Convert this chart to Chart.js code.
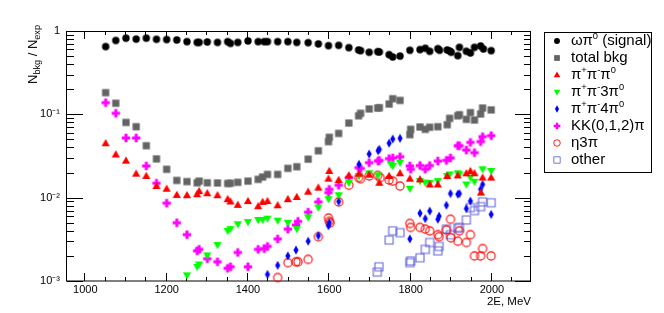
<!DOCTYPE html>
<html><head><meta charset="utf-8">
<script src="https://cdn.jsdelivr.net/npm/chart.js@4.4.0/dist/chart.umd.min.js"></script>
<style>
html,body{margin:0;padding:0;background:#fff;}
#wrap{position:relative;width:664px;height:313px;overflow:hidden;font-family:"Liberation Sans",Arial,Helvetica,sans-serif;color:#000;}
#c{position:absolute;left:0;top:0;}
#ytitle{position:absolute;font-size:13px;white-space:nowrap;transform-origin:0 0;transform:rotate(-90deg);line-height:1;}
#xtitle{position:absolute;right:133px;top:294px;font-size:11.5px;line-height:14px;white-space:nowrap;}
sub{font-size:70%;line-height:0;vertical-align:-0.3em;}
sup{font-size:62%;line-height:0;vertical-align:0.6em;}
#legend{position:absolute;left:544px;top:32px;width:106px;height:139px;border:1px solid #000;}
.lrow{position:absolute;left:571px;height:17px;line-height:17px;font-size:15px;white-space:nowrap;}
.lmark{position:absolute;}
</style></head><body>
<div id="wrap">
<canvas id="c" width="664" height="313"></canvas>
<div id="ytitle">N<sub>bkg</sub> / N<sub>exp</sub></div>
<div id="xtitle">2E, MeV</div>
<div id="legend"></div>
</div>
<script>
// ---------- data (E in MeV, N_bkg/N_exp) ----------
const xTicks = [1000, 1200, 1400, 1600, 1800, 2000];
const xTickLabels = ['1000', '1200', '1400', '1600', '1800', '2000'];
const yTicks = [0.001, 0.01, 0.1, 1];
const yTickLabels = ['10\u207B\u00B3', '10\u207B\u00B2', '10\u207B\u00B9', '1'];
const legendLabels = ['\u03C9\u03C0<sup>0</sup> (signal)', 'total bkg', '\u03C0<sup>+</sup>\u03C0<sup>-</sup>\u03C0<sup>0</sup>',
  '\u03C0<sup>+</sup>\u03C0<sup>-</sup>3\u03C0<sup>0</sup>', '\u03C0<sup>+</sup>\u03C0<sup>-</sup>4\u03C0<sup>0</sup>',
  'KK(0,1,2)\u03C0', '\u03B73\u03C0', 'other'];

const signal = [[1050,0.65],[1075,0.77],[1100,0.82],[1125,0.80],[1150,0.82],[1175,0.795],[1200,0.79],[1225,0.78],
 [1250,0.745],[1275,0.73],[1280,0.73],[1300,0.738],[1325,0.73],[1350,0.745],[1357,0.71],[1375,0.73],[1400,0.76],
 [1425,0.745],[1440,0.745],[1448,0.745],[1473,0.745],[1498,0.745],[1520,0.73],[1548,0.725],[1573,0.70],[1598,0.667],
 [1623,0.673],[1648,0.631],[1672,0.592],[1677,0.581],[1698,0.555],[1719,0.565],[1723,0.56],[1747,0.52],[1756,0.488],
 [1774,0.50],[1798,0.587],[1823,0.598],[1836,0.62],[1847,0.571],[1867,0.614],[1871,0.587],[1890,0.592],[1896,0.576],
 [1900,0.555],[1916,0.506],[1920,0.637],[1937,0.571],[1947,0.545],[1957,0.637],[1972,0.661],[1979,0.609],[1998,0.581]];

const totalBkg = [[1050,0.182],[1075,0.136],[1100,0.080],[1125,0.071],[1150,0.042],[1175,0.0292],[1200,0.0219],
 [1225,0.0161],[1250,0.0156],[1275,0.0151],[1280,0.0158],[1300,0.0151],[1325,0.0150],[1350,0.0148],[1357,0.0149],
 [1375,0.0153],[1400,0.0158],[1425,0.0166],[1436,0.0177],[1448,0.019],[1473,0.019],[1498,0.0225],[1520,0.0235],
 [1548,0.029],[1573,0.0365],[1598,0.047],[1600,0.053],[1623,0.059],[1648,0.0787],[1672,0.096],[1677,0.103],
 [1698,0.116],[1719,0.119],[1723,0.12],[1747,0.133],[1756,0.154],[1774,0.147],[1798,0.057],[1800,0.066],
 [1823,0.0705],[1836,0.066],[1847,0.070],[1867,0.071],[1890,0.075],[1896,0.0895],[1916,0.096],[1920,0.099],
 [1937,0.087],[1947,0.105],[1957,0.0855],[1972,0.101],[1977,0.119],[1998,0.113]];

const pipipi0 = [[1050,0.045],[1075,0.033],[1100,0.0278],[1125,0.0194],[1150,0.0182],[1175,0.0138],[1200,0.0128],
 [1225,0.0108],[1250,0.0107],[1275,0.011],[1280,0.012],[1300,0.0113],[1325,0.0107],[1350,0.0096],[1357,0.009],
 [1375,0.0082],[1400,0.0091],[1425,0.0079],[1436,0.0089],[1448,0.0091],[1473,0.0081],[1498,0.0096],[1520,0.0102],
 [1548,0.0118],[1573,0.0132],[1598,0.0169],[1600,0.0209],[1623,0.0163],[1648,0.0185],[1673,0.0194],[1698,0.0189],
 [1723,0.0151],[1747,0.0182],[1774,0.0196],[1798,0.0169],[1823,0.0166],[1847,0.0144],[1867,0.0144],[1890,0.0182],
 [1916,0.0185],[1937,0.0196],[1947,0.0209],[1957,0.0196],[1973,0.0115],[1977,0.0174],[1998,0.0174]];

const pipi3pi0 = [[1250,0.00117],[1275,0.00148],[1280,0.00158],[1300,0.00203],[1325,0.0027],[1350,0.0040],
 [1357,0.0042],[1375,0.0048],[1400,0.0051],[1425,0.0054],[1436,0.0054],[1448,0.0056],[1473,0.0053],[1498,0.0050],
 [1520,0.0042],[1548,0.0058],[1573,0.0076],[1598,0.0096],[1623,0.0107],[1648,0.0151],[1673,0.0182],[1698,0.0196],
 [1720,0.0185],[1752,0.0251],[1756,0.024],[1774,0.0263],[1798,0.0128],[1823,0.0158],[1836,0.0152],[1847,0.015],
 [1867,0.0158],[1890,0.0182],[1896,0.019],[1916,0.0196],[1920,0.019],[1937,0.0144],[1947,0.0174],[1957,0.0155],
 [1977,0.0219],[1998,0.0209]];

const pipi4pi0 = [[1448,0.0012],[1473,0.00154],[1498,0.0020],[1518,0.00235],[1548,0.0030],[1573,0.0035],
 [1598,0.0046],[1600,0.0050],[1623,0.009],[1673,0.0251],[1698,0.0334],[1720,0.0366],[1723,0.038],[1747,0.045],
 [1756,0.0505],[1774,0.0515],[1798,0.0032],[1823,0.0065],[1836,0.0056],[1847,0.0069],[1867,0.0055],[1870,0.006],
 [1888,0.0081],[1898,0.0112],[1916,0.011],[1920,0.0112],[1937,0.0074],[1947,0.0091],[1972,0.0126],[1977,0.0144],
 [1998,0.0063]];

const kkpi = [[1050,0.138],[1075,0.103],[1100,0.052],[1125,0.052],[1150,0.024],[1175,0.0149],[1200,0.0086],
 [1225,0.0050],[1250,0.0036],[1275,0.0023],[1280,0.0024],[1300,0.00185],[1325,0.0017],[1350,0.00142],[1357,0.00148],
 [1375,0.0022],[1400,0.00148],[1425,0.0024],[1440,0.00245],[1448,0.0026],[1473,0.0032],[1498,0.0042],[1518,0.0047],
 [1523,0.0052],[1548,0.0067],[1573,0.0089],[1598,0.0115],[1600,0.0126],[1623,0.0141],[1648,0.0174],[1672,0.0229],
 [1677,0.0224],[1698,0.0263],[1720,0.0275],[1723,0.028],[1747,0.0294],[1756,0.030],[1774,0.031],[1798,0.024],
 [1800,0.0219],[1823,0.0243],[1836,0.022],[1847,0.0243],[1867,0.0275],[1888,0.028],[1898,0.030],[1916,0.042],
 [1920,0.042],[1937,0.0373],[1947,0.046],[1957,0.0347],[1972,0.047],[1977,0.054],[1998,0.0555]];

const eta3pi = [[1473,0.0011],[1498,0.00166],[1518,0.0017],[1523,0.0017],[1548,0.00182],[1573,0.0034],[1598,0.0057],
 [1600,0.0052],[1602,0.0050],[1623,0.0089],[1648,0.0141],[1672,0.0174],[1677,0.0169],[1698,0.0182],[1719,0.0185],
 [1725,0.0174],[1747,0.0163],[1756,0.0158],[1774,0.0138],[1798,0.0049],[1800,0.0044],[1823,0.0044],[1836,0.0042],
 [1847,0.0040],[1867,0.0036],[1870,0.0034],[1888,0.0041],[1898,0.0055],[1899,0.0033],[1916,0.0030],[1920,0.0040],
 [1937,0.0029],[1947,0.0036],[1957,0.0020],[1972,0.0020],[1977,0.00245],[1998,0.0020]];

const other = [[1718,0.00128],[1722,0.00148],[1747,0.0031],[1756,0.0040],[1774,0.0038],[1798,0.00166],[1800,0.00174],
 [1823,0.0019],[1836,0.0024],[1847,0.0029],[1867,0.0023],[1870,0.0026],[1888,0.0042],[1898,0.0036],[1916,0.0043],
 [1920,0.0044],[1937,0.0054],[1947,0.0076],[1957,0.0070],[1972,0.0078],[1977,0.0089],[1998,0.0087]];

// ---------- markers ----------
function drawShape(ctx, kind, cx, cy, k) {
  ctx.save();
  ctx.translate(cx, cy); ctx.scale(k, k);
  ctx.beginPath();
  switch (kind) {
    case 'dot': ctx.arc(0, 0, 3.7, 0, 2 * Math.PI); ctx.fillStyle = '#000'; ctx.fill(); break;
    case 'square': ctx.fillStyle = '#646464'; ctx.fillRect(-3.6, -3.6, 7.2, 7.2); break;
    case 'triUp': ctx.moveTo(0, -4.3); ctx.lineTo(4.1, 2.9); ctx.lineTo(-4.1, 2.9); ctx.closePath(); ctx.fillStyle = '#ff0000'; ctx.fill(); break;
    case 'triDown': ctx.moveTo(0, 4.3); ctx.lineTo(4.1, -2.9); ctx.lineTo(-4.1, -2.9); ctx.closePath(); ctx.fillStyle = '#00ff00'; ctx.fill(); break;
    case 'diamond': ctx.moveTo(0, -4.6); ctx.lineTo(2.6, 0); ctx.lineTo(0, 4.6); ctx.lineTo(-2.6, 0); ctx.closePath(); ctx.fillStyle = '#0000ff'; ctx.fill(); break;
    case 'cross': {
      const a = 4.2, t = 1.5;
      ctx.moveTo(-t, -a); ctx.lineTo(t, -a); ctx.lineTo(t, -t); ctx.lineTo(a, -t); ctx.lineTo(a, t); ctx.lineTo(t, t);
      ctx.lineTo(t, a); ctx.lineTo(-t, a); ctx.lineTo(-t, t); ctx.lineTo(-a, t); ctx.lineTo(-a, -t); ctx.lineTo(-t, -t);
      ctx.closePath(); ctx.fillStyle = '#ff00ff'; ctx.fill(); break;
    }
    case 'circleOpen': ctx.arc(0, 0, 4.1, 0, 2 * Math.PI); ctx.strokeStyle = '#ff0000'; ctx.lineWidth = 1.1; ctx.stroke(); break;
    case 'squareOpen': ctx.rect(-4, -4, 8, 8); ctx.strokeStyle = '#6464dc'; ctx.lineWidth = 1.1; ctx.stroke(); break;
  }
  ctx.restore();
}
function markerImage(kind) {
  const cv = document.createElement('canvas');
  cv.width = 14; cv.height = 14;
  drawShape(cv.getContext('2d'), kind, 7, 7, 1);
  return cv;
}

const seriesList = [
  { data: signal, kind: 'dot' },
  { data: totalBkg, kind: 'square' },
  { data: pipipi0, kind: 'triUp' },
  { data: pipi3pi0, kind: 'triDown' },
  { data: pipi4pi0, kind: 'diamond' },
  { data: kkpi, kind: 'cross' },
  { data: eta3pi, kind: 'circleOpen' },
  { data: other, kind: 'squareOpen' }
];

// ---------- frame & ticks (ROOT style) ----------
const frameTicks = {
  id: 'frameTicks',
  beforeDatasetsDraw(chart) {
    const { ctx, chartArea: a, scales: { x, y } } = chart;
    ctx.save();
    ctx.strokeStyle = '#000'; ctx.lineWidth = 1;
    ctx.strokeRect(a.left - 0.5, a.top + 0.5, a.right - a.left, a.bottom - a.top - 0.5);
    ctx.beginPath();
    for (let v = 1000; v <= x.max; v += 50) {
      const px = Math.round(x.getPixelForValue(v)) - 0.5;
      const L = (v % 200 === 0) ? 8 : 4;
      ctx.moveTo(px, a.bottom); ctx.lineTo(px, a.bottom - L);
      ctx.moveTo(px, a.top); ctx.lineTo(px, a.top + L);
    }
    for (let d = -3; d < 0; d++) {
      for (let m = 1; m <= 9; m++) {
        const v = m * Math.pow(10, d);
        const py = Math.round(y.getPixelForValue(v)) + 0.5;
        const L = m === 1 ? 16 : 7;
        ctx.moveTo(a.left, py); ctx.lineTo(a.left + L, py);
        ctx.moveTo(a.right, py); ctx.lineTo(a.right - L, py);
      }
    }
    ctx.stroke();
    ctx.restore();
  }
};

const chart = new Chart(document.getElementById('c'), {
  type: 'scatter',
  data: {
    datasets: seriesList.map((s, i) => ({
      label: 'series' + i,
      data: s.data.map(([e, v]) => ({ x: e, y: v })),
      pointStyle: markerImage(s.kind),
      pointRadius: 4,
      clip: false,
      showLine: false
    }))
  },
  options: {
    responsive: false,
    animation: false,
    devicePixelRatio: 1,
    events: [],
    layout: { padding: { left: 0, top: 31, right: 133, bottom: 0 } },
    plugins: { legend: { display: false }, tooltip: { enabled: false } },
    scales: {
      x: {
        type: 'linear', min: 955, max: 2096,
        grid: { display: false, drawTicks: false }, border: { display: false },
        ticks: { color: '#000', font: { family: 'Liberation Sans, Arial, sans-serif', size: 11 }, padding: 2, maxRotation: 0, autoSkip: false,
          callback: (v, i) => xTickLabels[i] },
        afterBuildTicks: s => { s.ticks = xTicks.map(v => ({ value: v })); },
        afterFit: s => { s.height = 32; }
      },
      y: {
        type: 'logarithmic', min: 0.001, max: 1,
        grid: { display: false, drawTicks: false }, border: { display: false },
        ticks: { color: '#000', font: { family: 'Liberation Sans, Arial, sans-serif', size: 11 }, padding: 7, autoSkip: false,
          callback: (v, i) => yTickLabels[i] },
        afterBuildTicks: s => { s.ticks = yTicks.map(v => ({ value: v })); },
        afterFit: s => { s.width = 67; }
      }
    }
  },
  plugins: [frameTicks]
});

// ---------- axis title & legend ----------
const yt = document.getElementById('ytitle');
yt.style.left = '26px';
yt.style.top = (25 + yt.offsetWidth) + 'px';

const wrap = document.getElementById('wrap');
seriesList.forEach((s, i) => {
  const cy = 40.7 + 17 * i;
  const mc = document.createElement('canvas');
  mc.width = 16; mc.height = 16; mc.className = 'lmark';
  mc.style.left = (557 - 8) + 'px'; mc.style.top = (Math.round(cy) - 8) + 'px';
  drawShape(mc.getContext('2d'), s.kind, 8, 8, 0.8);
  wrap.appendChild(mc);
  const t = document.createElement('div');
  t.className = 'lrow';
  t.style.top = (cy - 9.5) + 'px';
  t.innerHTML = legendLabels[i];
  wrap.appendChild(t);
});
</script>
</body></html>
